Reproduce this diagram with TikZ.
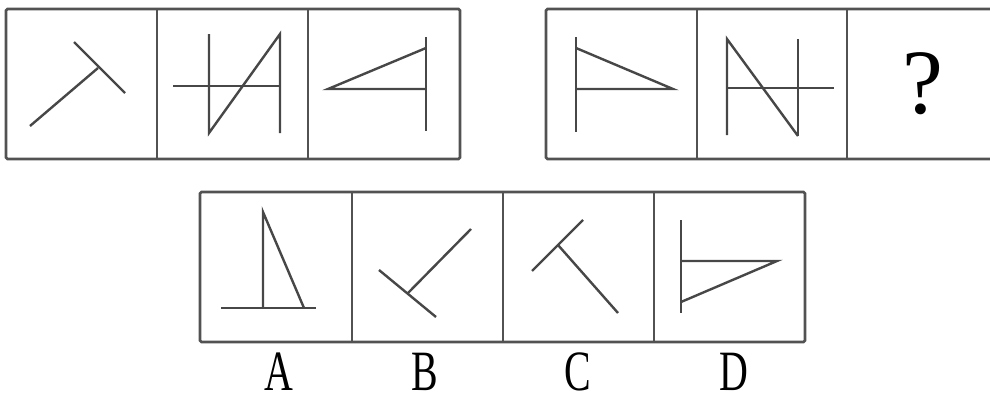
\documentclass[tikz,border=0pt]{standalone}
\usepackage{fontspec}
\usetikzlibrary{positioning}
\newfontfamily\choicefont[FakeStretch=0.7]{Liberation Serif}
\newfontfamily\askfont{Liberation Serif}

\tikzset{
    cellbox/.style={draw=black!68, line width=2.6pt, rounded corners=1.5pt},
    stroke/.style={draw=black!72, line width=2.4pt},
    choice/.style={inner sep=0pt, font=\choicefont\fontsize{57}{57}\selectfont},
    ask/.style={inner sep=0pt, font=\askfont\fontsize{92}{92}\selectfont}
}

\begin{document}
\begin{tikzpicture}[x=1pt, y=-1pt]
            \useasboundingbox (0,0) rectangle (990,399);

            \draw[cellbox] (6,9) rectangle (460,159);
            \draw[cellbox] (157,9) -- (157,159);
            \draw[cellbox] (308,9) -- (308,159);

            \draw[cellbox] (993,9) -- (546,9) -- (546,159) -- (993,159);
            \draw[cellbox] (697,9) -- (697,159);
            \draw[cellbox] (847,9) -- (847,159);

            \draw[cellbox] (200,192) rectangle (805,342);
            \foreach \x in {352, 503, 654}
                \draw[cellbox] (\x,192) -- (\x,342);

            \draw[stroke] (30,126) -- (98,68);
            \draw[stroke] (74,42) -- (125,93);

            \draw[stroke] (209,34) -- (209,133) -- (280,34) -- (280,133);
            \draw[stroke] (173,86) -- (280,86);

            \draw[stroke] (426,37) -- (426,131);
            \draw[stroke] (426,48) -- (328,89) -- (426,89);

            \draw[stroke] (576,37) -- (576,132);
            \draw[stroke] (576,48) -- (673,89) -- (576,89);

            \draw[stroke] (727,135) -- (727,39) -- (798,136);
            \draw[stroke] (798,39) -- (798,136);
            \draw[stroke] (727,88) -- (834,88);

            \node[ask] (query) at (923,84) {?};

            \draw[stroke] (263,308) -- (263,212) -- (304,308);
            \draw[stroke] (221,308) -- (316,308);

            \draw[stroke] (471,229) -- (408,293);
            \draw[stroke] (379,270) -- (436,317);

            \draw[stroke] (532,271) -- (583,220);
            \draw[stroke] (558,245) -- (618,313);

            \draw[stroke] (681,220) -- (681,313);
            \draw[stroke] (681,261) -- (777,261) -- (681,302);

            \node[choice] (optA) at (279,372) {A};
            \node[choice] (optB) at (425,372) {B};
            \node[choice] (optC) at (578,372) {C};
            \node[choice] (optD) at (734,372) {D};
        \end{tikzpicture}
\end{document}
